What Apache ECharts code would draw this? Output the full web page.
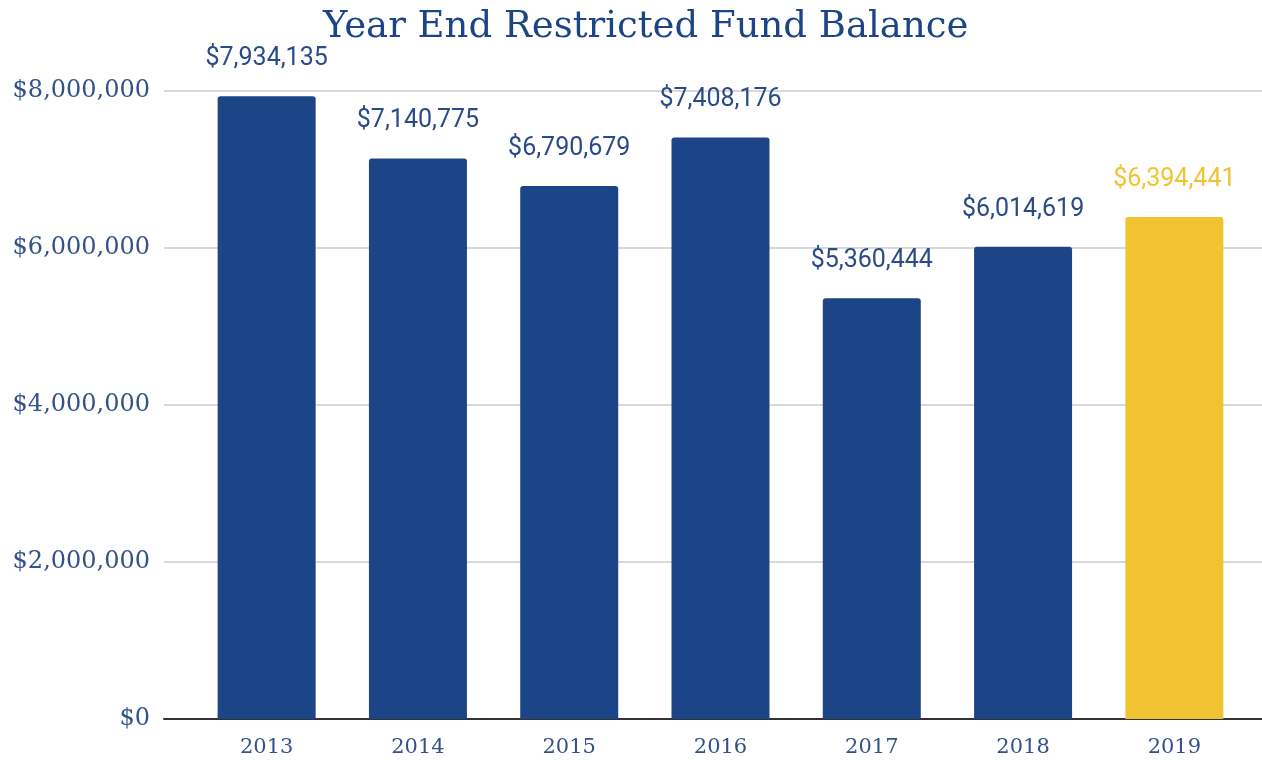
<!DOCTYPE html>
<html>
<head>
<meta charset="utf-8">
<script src="https://cdn.jsdelivr.net/npm/echarts@6/dist/echarts.min.js"></script>
<style>
  html, body { margin: 0; padding: 0; background: #fff; }
  #chart { width: 1262px; height: 760px; }
</style>
</head>
<body>
<div id="chart"></div>
<script>
// Year-end restricted fund balances
const years = ['2013', '2014', '2015', '2016', '2017', '2018', '2019'];
const balances = [7934135, 7140775, 6790679, 7408176, 5360444, 6014619, 6394441];
const currentYear = '2019';

const BLUE = '#1c4587';
const LABEL_BLUE = '#2a4b88';
const GOLD = '#f1c232';
const AXIS_TEXT = '#34528a';
const SERIF = "'DejaVu Serif', 'Liberation Serif', serif";

const money = v => '$' + Math.round(v).toLocaleString('en-US');

const barData = balances.map((v, i) => {
  const current = years[i] === currentYear;
  return {
    value: v,
    itemStyle: { color: current ? GOLD : BLUE },
    label: { color: current ? GOLD : LABEL_BLUE }
  };
});

const chart = echarts.init(document.getElementById('chart'));
chart.setOption({
  animation: false,
  backgroundColor: '#fff',
  title: {
    text: 'Year End Restricted Fund Balance',
    left: 318,
    top: 4,
    textStyle: { fontFamily: SERIF, fontWeight: 'normal', fontSize: 37, color: BLUE }
  },
  grid: [
    // full-width frame: value axis labels, gridlines, baseline
    { left: 164, right: 0, top: 91, bottom: 41 },
    // category band holding the bars
    { left: 191, right: 12, top: 91, bottom: 41 }
  ],
  xAxis: [
    {
      gridIndex: 0, type: 'category', data: [''],
      axisLine: { show: true, lineStyle: { color: '#333', width: 2 } },
      axisTick: { show: false }, axisLabel: { show: false }
    },
    {
      gridIndex: 1, type: 'category', data: years,
      axisLine: { show: false }, axisTick: { show: false },
      axisLabel: { fontFamily: SERIF, fontSize: 21, color: AXIS_TEXT, margin: 18 }
    }
  ],
  yAxis: [
    {
      gridIndex: 0, type: 'value', min: 0, max: 8000000, interval: 2000000,
      axisLine: { show: false }, axisTick: { show: false },
      splitLine: { lineStyle: { color: '#cccccc', width: 1.5 } },
      axisLabel: { fontFamily: SERIF, fontSize: 24, color: AXIS_TEXT, margin: 14, formatter: money }
    },
    {
      gridIndex: 1, type: 'value', min: 0, max: 8000000,
      show: false
    }
  ],
  series: [{
    type: 'bar',
    xAxisIndex: 1,
    yAxisIndex: 1,
    data: barData,
    barWidth: 98,
    itemStyle: { borderRadius: [3, 3, 0, 0] },
    label: {
      show: true,
      position: 'top',
      distance: 25,
      fontFamily: 'Roboto, sans-serif',
      fontSize: 25,
      formatter: p => money(p.value)
    },
    z: 3
  }]
});
</script>
</body>
</html>
